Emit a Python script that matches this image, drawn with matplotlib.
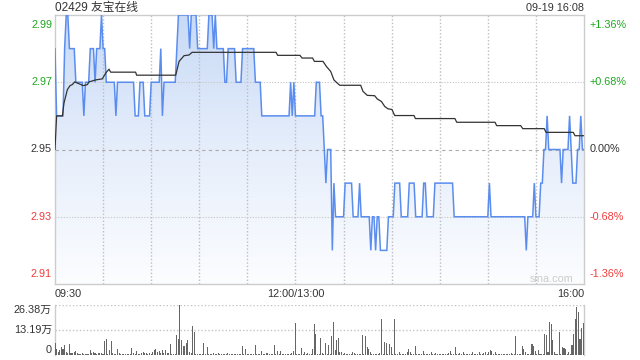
import numpy as np
import matplotlib
matplotlib.use('Agg')
import matplotlib.pyplot as plt
from matplotlib.colors import LinearSegmentedColormap
from matplotlib.patches import PathPatch
import matplotlib.transforms as mtransforms

plt.rcParams['font.family'] = ['Liberation Sans', 'Noto Sans CJK SC', 'DejaVu Sans']

# ---------------- data ----------------
title = '02429 友宝在线'
timestamp = '09-19 16:08'
prev_close = 2.95

# minute price, run-length encoded (price, number of minutes)
price_segments = [
    (2.98, 1), (2.96, 5), (2.98, 1), (2.99, 2), (2.98, 4), (2.97, 5), (2.96, 1),
    (2.97, 3), (2.98, 3), (2.97, 1), (2.98, 3), (2.99, 1), (2.98, 2), (2.97, 6),
    (2.96, 1), (2.97, 11), (2.96, 3), (2.97, 3), (2.96, 4), (2.97, 6), (2.98, 1),
    (2.96, 1), (2.97, 8), (2.98, 1), (2.99, 7), (2.98, 1), (2.99, 4), (2.98, 7),
    (2.99, 3), (2.98, 1), (2.99, 1), (2.98, 5), (2.97, 2), (2.98, 5), (2.97, 4),
    (2.98, 8), (2.97, 4), (2.96, 18), (2.97, 1), (2.96, 1), (2.97, 1), (2.96, 13),
    (2.97, 3), (2.96, 2), (2.95, 1), (2.94, 1), (2.95, 3), (2.92, 1), (2.94, 1),
    (2.93, 6), (2.94, 5), (2.93, 4), (2.94, 1), (2.93, 6), (2.92, 1), (2.93, 2),
    (2.92, 1), (2.93, 2), (2.92, 5), (2.93, 4), (2.94, 4), (2.93, 5), (2.94, 4),
    (2.93, 5), (2.94, 2), (2.93, 5), (2.94, 12), (2.93, 22), (2.94, 1), (2.93, 22),
    (2.92, 1), (2.93, 4), (2.94, 1), (2.93, 3), (2.94, 2), (2.95, 2), (2.96, 1),
    (2.95, 8), (2.94, 1), (2.95, 4), (2.96, 1), (2.95, 1), (2.94, 3), (2.95, 2),
    (2.96, 1), (2.95, 2),
]

# average price line (minute index, price)
avg_minutes = [0, 1, 4.6, 5.6, 7.7, 9.4, 10.8, 12.3, 17.7, 20.2, 21.2, 25.4, 29.5,
               31.6, 33.7, 34.7, 50.3, 50.9, 75.3, 77.4, 80.5, 83.6, 85.5, 137.9,
               138.9, 152.8, 154.1, 160.7, 161.8, 167.2, 169.3, 172, 174, 175.5,
               177.6, 190.7, 192.1, 194.8, 199.4, 201.1, 203.6, 205.7, 207.7, 210.2,
               211.9, 224, 224.8, 249.5, 250.6, 274.5, 275.5, 290.5, 291.8, 305.2,
               306.3, 323.3, 324.4, 330]
avg_prices = [2.95, 2.96, 2.96, 2.9638, 2.9678, 2.969, 2.9693, 2.9701, 2.969, 2.9693,
              2.9701, 2.9707, 2.971, 2.9727, 2.9739, 2.973, 2.973, 2.9721, 2.9721,
              2.9762, 2.9779, 2.9781, 2.9789, 2.9789, 2.978, 2.978, 2.9772, 2.9772,
              2.9762, 2.9762, 2.9747, 2.9732, 2.9707, 2.97, 2.9691, 2.9691, 2.9673,
              2.9661, 2.966, 2.965, 2.9643, 2.9628, 2.9621, 2.9619, 2.9601, 2.9601,
              2.9592, 2.9592, 2.9581, 2.9581, 2.9571, 2.9571, 2.9562, 2.9562, 2.9551,
              2.9551, 2.9541, 2.9541]

# minute volume, in 万 shares
volumes = [
    6.5, 3.0, 1.8, 2.6, 4.0, 3.0, 5.3, 1.8, 1.2, 5.8,
    1.2, 1.2, 1.8, 2.1, 0.9, 0.5, 0.4, 0.9, 0.6, 0.4,
    0.3, 0.5, 2.6, 1.2, 1.5, 1.2, 0.4, 0.9, 1.2, 0.9,
    0.5, 7.4, 8.4, 0.6, 2.6, 7.4, 0.9, 0.4, 0.5, 3.0,
    1.2, 0.4, 0.6, 0.3, 0.5, 0.7, 0.4, 0.6, 3.5, 0.9,
    0.4, 2.1, 0.5, 0.3, 1.2, 1.8, 0.9, 1.2, 0.7, 1.2,
    0.5, 1.8, 2.6, 3.2, 1.8, 2.1, 1.2, 2.6, 0.9, 2.6,
    0.9, 1.2, 5.8, 0.5, 0.5, 0.4, 10.6, 8.3, 26.38, 7.9,
    4.7, 4.7, 6.2, 7.9, 1.8, 0.9, 15.3, 12.3, 0.5, 0.4,
    0.6, 0.3, 0.5, 6.5, 0.5, 4.0, 0.6, 0.4, 0.3, 0.9,
    0.5, 0.6, 0.9, 0.5, 0.4, 0.6, 0.4, 0.7, 0.9, 0.3,
    0.5, 0.6, 0.4, 0.5, 0.3, 0.6, 0.5, 4.7, 0.6, 3.0,
    0.5, 0.4, 0.6, 0.3, 0.5, 5.3, 0.4, 0.6, 0.5, 2.1,
    0.4, 0.5, 0.9, 1.2, 0.6, 0.4, 0.5, 5.3, 0.6, 2.1,
    0.5, 2.1, 0.4, 0.6, 0.5, 0.3, 0.4, 0.6, 0.9, 2.1,
    17.1, 0.5, 0.6, 0.4, 3.9, 0.5, 1.6, 0.6, 0.9, 0.4,
    0.5, 3.0, 16.4, 11.1, 0.5, 0.4, 8.8, 0.9, 0.5, 6.2,
    0.4, 5.3, 0.6, 10.0, 17.6, 2.6, 7.9, 8.8, 1.8, 1.8,
    0.6, 0.9, 0.5, 0.4, 0.6, 0.5, 1.8, 1.2, 0.4, 0.5,
    0.6, 0.4, 10.6, 0.5, 10.0, 4.4, 3.0, 1.8, 0.6, 0.4,
    0.5, 0.6, 0.4, 1.2, 19.0, 0.6, 7.0, 6.2, 0.5, 5.8,
    4.0, 0.6, 19.0, 0.5, 0.4, 1.8, 0.6, 0.5, 0.4, 0.6,
    1.8, 3.0, 1.8, 0.5, 0.4, 4.7, 0.6, 0.5, 0.4, 0.6,
    2.3, 0.5, 0.4, 0.6, 0.5, 1.8, 0.4, 0.6, 1.2, 0.5,
    0.4, 0.6, 0.5, 0.4, 0.6, 0.5, 1.2, 2.3, 0.5, 0.6,
    4.4, 0.5, 0.6, 1.2, 0.5, 1.8, 0.4, 0.6, 0.5, 0.4,
    0.6, 1.8, 0.5, 0.4, 0.6, 1.8, 0.5, 0.4, 1.2, 1.8,
    0.5, 1.8, 2.6, 2.1, 0.6, 1.8, 0.5, 0.4, 0.6, 0.5,
    0.4, 0.6, 0.5, 0.4, 0.6, 1.2, 0.5, 0.4, 10.0, 0.5,
    0.6, 0.4, 4.7, 3.0, 1.8, 0.5, 0.6, 0.4, 5.8, 4.7,
    2.1, 0.5, 2.6, 0.6, 0.4, 0.5, 11.1, 10.6, 1.8, 17.2,
    16.4, 7.9, 1.8, 0.5, 0.6, 12.3, 0.5, 4.0, 3.5, 3.0,
    0.6, 1.8, 0.5, 5.3, 11.1, 18.8, 25.1, 22.9, 8.3, 14.1,
    16.7,
]

price_ticks = [2.99, 2.97, 2.95, 2.93, 2.91]
price_tick_labels = ['2.99', '2.97', '2.95', '2.93', '2.91']
pct_tick_labels = ['+1.36%', '+0.68%', '0.00%', '-0.68%', '-1.36%']
x_tick_minutes = [0, 150, 330]
x_tick_labels = ['09:30', '12:00/13:00', '16:00']
vol_ticks = [26.38, 13.19, 0]
vol_tick_labels = ['26.38万', '13.19万', '0']

# ---------------- build ----------------
prices = np.concatenate([np.full(n, v) for v, n in price_segments])
minutes = np.arange(len(prices))
vminutes = np.arange(len(volumes))
x_max = 330

GREEN = '#1fa81f'
RED = '#f03c3c'
DARK = '#333333'
GRID = '#c4c4c4'
VGRID = '#bdbdbd'
BORDER = '#cccccc'
FS = 7.8

fig = plt.figure(figsize=(6.4, 3.6), dpi=100)
fig.patch.set_facecolor('white')

W, H = 640, 360
ax = fig.add_axes([55 / W, 1 - 284 / H, (584 - 55) / W, (284 - 15) / H])
axv = fig.add_axes([55 / W, 1 - 355 / H, (584 - 55) / W, (355 - 305) / H])

# --- main price panel ---
ax.set_xlim(0, x_max)
ax.set_ylim(price_ticks[-1], price_ticks[0])

# gradient fill under price line
cmap = LinearSegmentedColormap.from_list('g', ['#fcfdff', '#e6eefb', '#c8daf6'])
grad = np.linspace(0, 1, 256).reshape(-1, 1)
img = ax.imshow(grad, extent=[0, x_max, price_ticks[-1], price_ticks[0]],
                origin='lower', aspect='auto', cmap=cmap, zorder=1)
poly = ax.fill_between(minutes, prices, price_ticks[-1], color='none', linewidth=0)
clip = PathPatch(poly.get_paths()[0], transform=ax.transData,
                 facecolor='none', edgecolor='none')
ax.add_patch(clip)
img.set_clip_path(clip)

# grid
for m in range(30, x_max, 30):
    ax.axvline(m, color=VGRID, lw=1.0, ls=(0, (1, 1.5)), zorder=2, snap=True)
for p in price_ticks[1:-1]:
    if abs(p - prev_close) < 1e-9:
        ax.axhline(p, color='#aaaaaa', lw=0.8, ls=(0, (3, 3)), zorder=2)
    else:
        ax.axhline(p, color=GRID, lw=0.8, ls=(0, (1, 1.5)), zorder=2)

ax.plot(minutes, prices, color='#5b8def', lw=1.1, zorder=4, solid_joinstyle='miter')
ax.plot(avg_minutes, avg_prices, color='#333333', lw=0.9, zorder=5)

for s in ax.spines.values():
    s.set_color(BORDER)
    s.set_linewidth(1)
ax.set_xticks([])
ax.set_yticks([])

trans_l = mtransforms.blended_transform_factory(fig.transFigure, ax.transData)
colors = [GREEN, GREEN, DARK, RED, RED]
vas = ['top', 'center', 'center', 'center', 'bottom']
for p, lab, pl, c, va in zip(price_ticks, price_tick_labels, pct_tick_labels, colors, vas):
    off = 0
    if va == 'top':
        off = -0.0015
    elif va == 'bottom':
        off = 0.0015
    ax.text(52 / W, p + off, lab, transform=trans_l, ha='right', va=va,
            color=c, fontsize=FS)
    ax.text(590 / W, p + off, pl, transform=trans_l, ha='left', va=va,
            color=c, fontsize=FS)

fig.text(55 / W, 1 - 8 / H, title, ha='left', va='center', fontsize=8.5, color=DARK)
fig.text(584 / W, 1 - 8 / H, timestamp, ha='right', va='center', fontsize=FS, color=DARK)

trans_x = mtransforms.blended_transform_factory(ax.transData, fig.transFigure)
has = ['left', 'center', 'right']
for m, lab, ha in zip(x_tick_minutes, x_tick_labels, has):
    ax.text(m, 1 - 294 / H, lab, transform=trans_x, ha=ha, va='center',
            fontsize=FS, color=DARK)

ax.text(573 / W, 1 - 279 / H, 'sina.com', transform=fig.transFigure, ha='right',
        va='center', fontsize=FS, color='#cccccc', zorder=6)

# --- volume panel ---
axv.set_xlim(0, x_max + 0.5)
axv.set_ylim(0, vol_ticks[0])
axv.bar(vminutes, volumes, width=0.65, color='#666666', linewidth=0, zorder=3)
axv.axhline(vol_ticks[1], color=GRID, lw=1.0, ls=(0, (1, 1.5)), zorder=1)
axv.axhline(vol_ticks[0], color=GRID, lw=1.0, ls=(0, (1, 1.5)), zorder=1)
for k in ['top', 'bottom']:
    axv.spines[k].set_visible(False)
for k in ['left', 'right']:
    axv.spines[k].set_color(BORDER)
    axv.spines[k].set_linewidth(1)
axv.set_xticks([])
axv.set_yticks([])

trans_v = mtransforms.blended_transform_factory(fig.transFigure, axv.transData)
vvas = ['top', 'center', 'bottom']
for v, lab, va in zip(vol_ticks, vol_tick_labels, vvas):
    axv.text(52 / W, v, lab, transform=trans_v, ha='right', va=va,
             fontsize=FS, color=DARK)

fig.savefig('out.png', dpi=100, facecolor='white')
